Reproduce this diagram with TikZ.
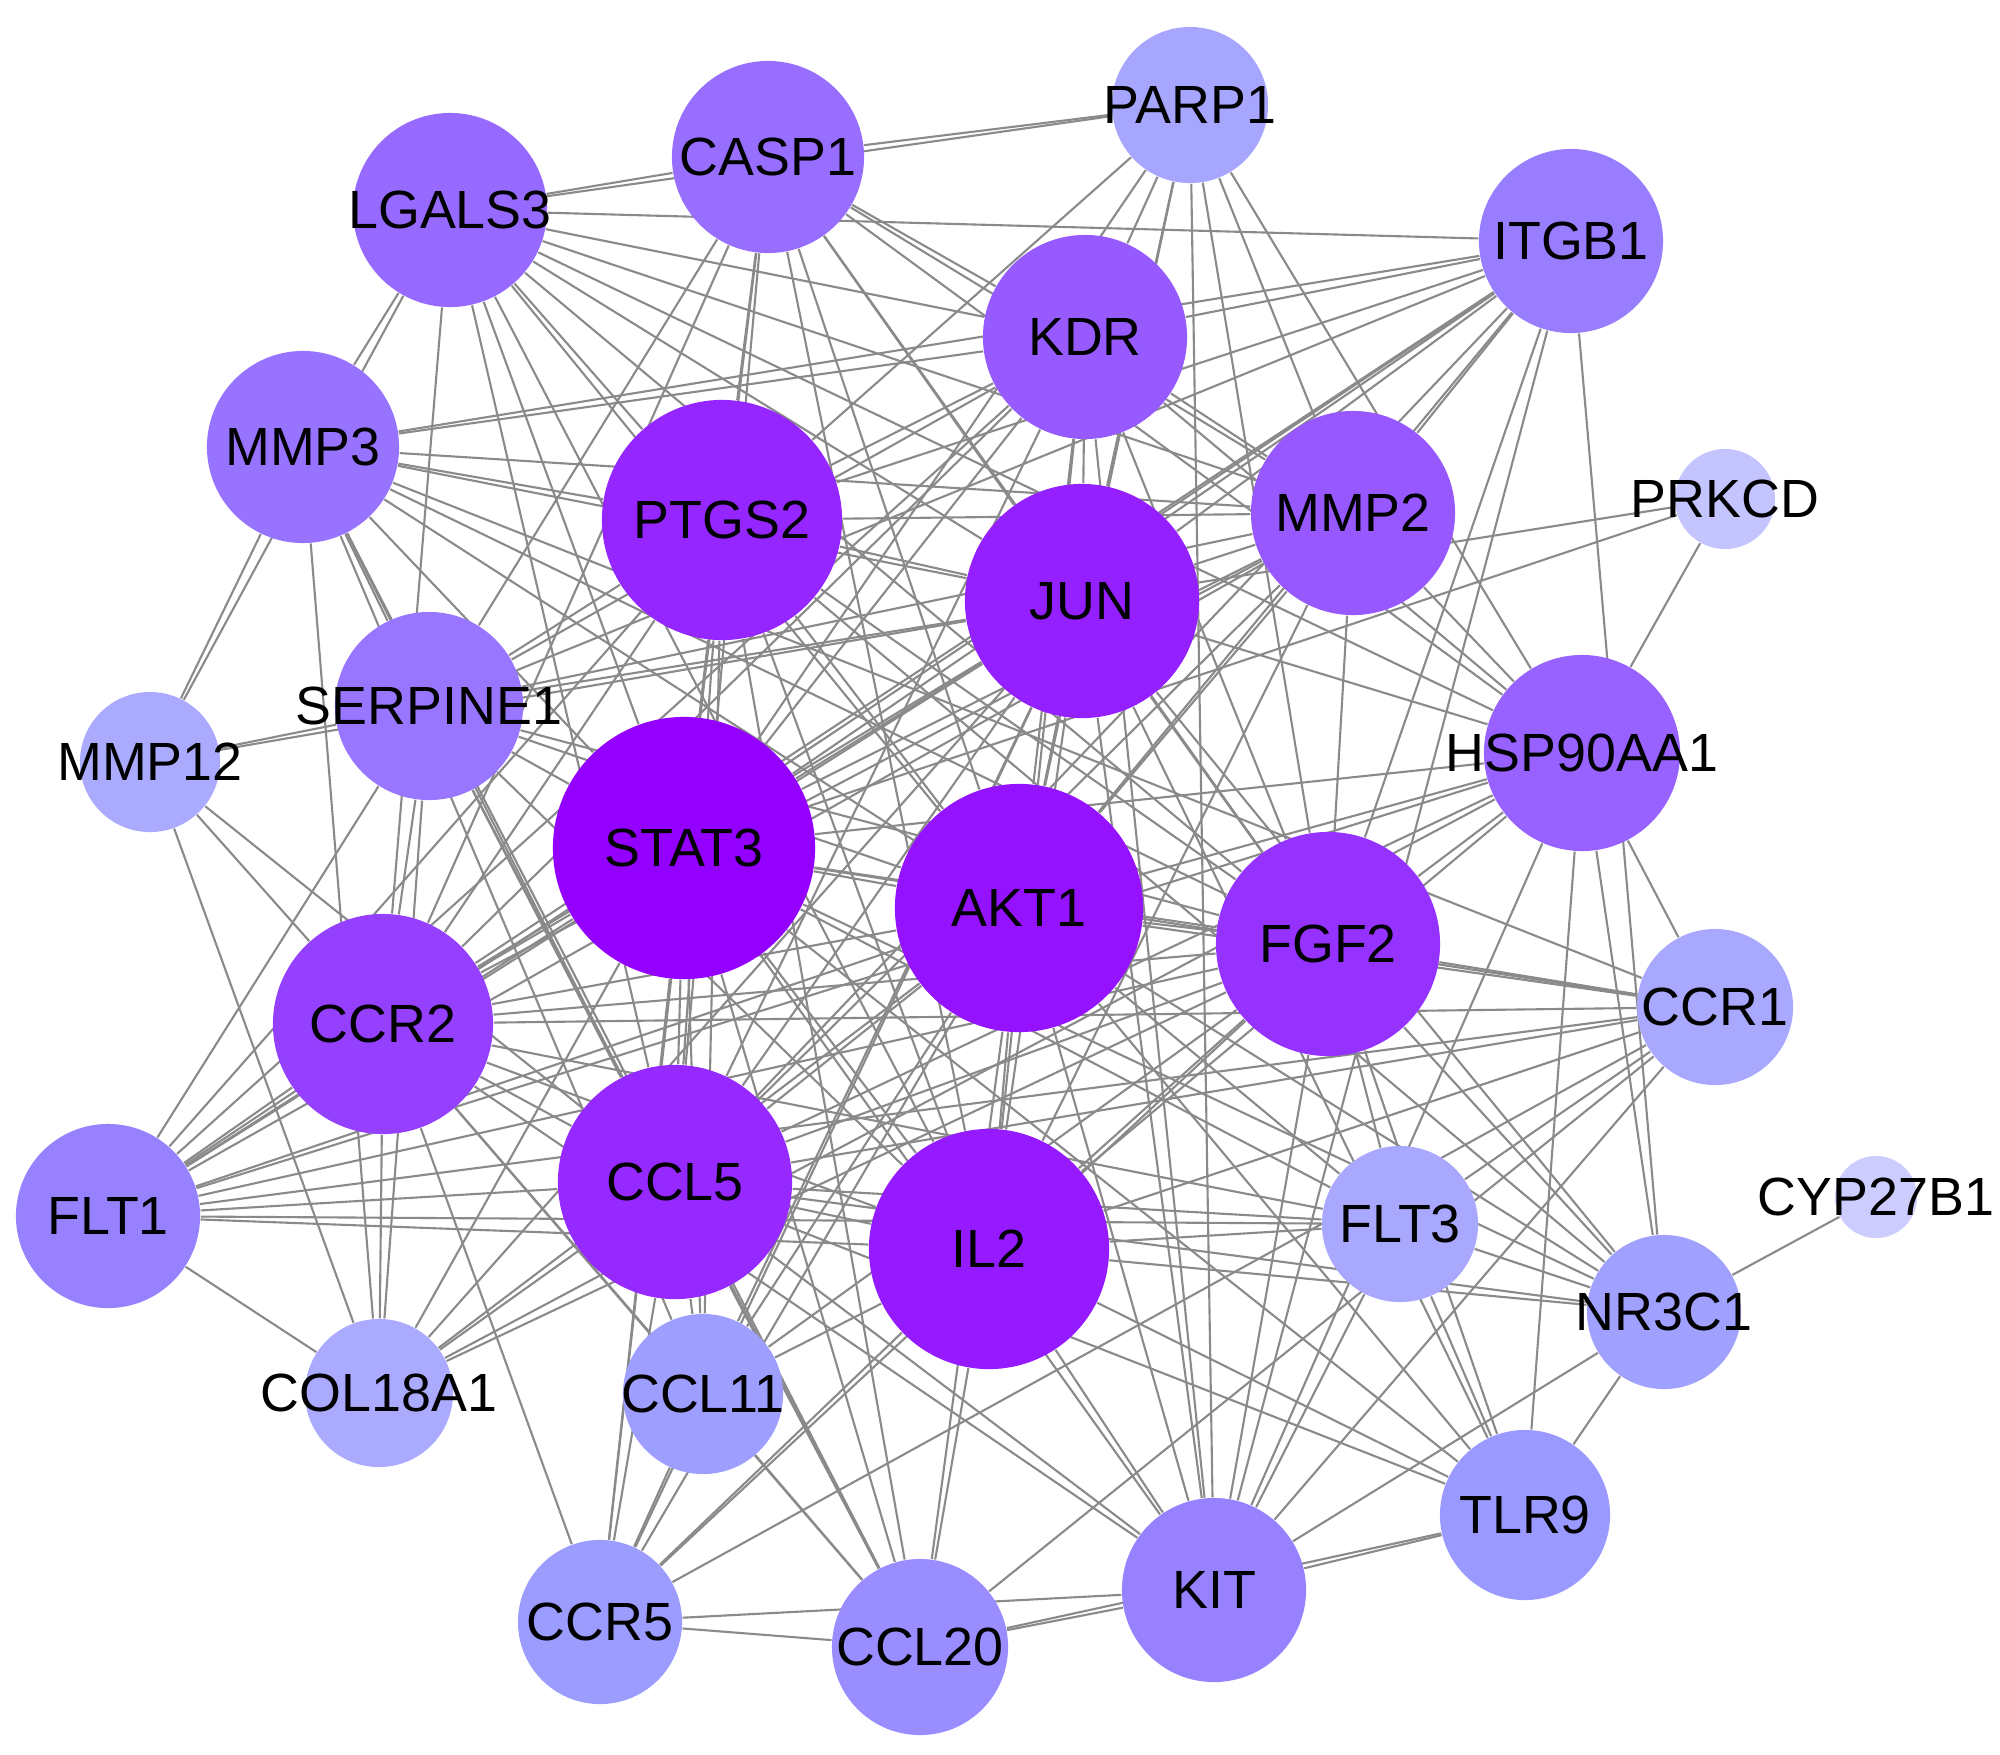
\documentclass[tikz,border=0pt]{standalone}
\usepackage{fontspec}
\setmainfont{Liberation Sans}
\usetikzlibrary{backgrounds}

\definecolor{hi}{RGB}{148,0,255}
\definecolor{mid}{RGB}{153,153,255}
\definecolor{lo}{RGB}{204,204,255}
\definecolor{edgegray}{RGB}{138,138,138}

\tikzset{
    gene/.style={circle, inner sep=0pt, minimum size={#1*0.02cm}},
    link/.style={edgegray, line width=0.6pt},
}

\begin{document}
\begin{tikzpicture}[x=0.01cm, y=-0.01cm, font=\fontsize{15.3}{18}\selectfont]
    \useasboundingbox (0,0) rectangle (2000,1754);

    % genes, radius grows with degree
    \node[gene=131, fill=hi, label=center:STAT3] (stat3) at (684,848) {};
    \node[gene=124, fill=hi!88!mid, label=center:AKT1] (akt1) at (1019,908) {};
    \node[gene=120, fill=hi!83!mid, label=center:IL2] (il2) at (989,1249) {};
    \node[gene=117, fill=hi!79!mid, label=center:JUN] (jun) at (1082,601) {};
    \node[gene=120, fill=hi!75!mid, label=center:PTGS2] (ptgs2) at (722,520) {};
    \node[gene=117, fill=hi!73!mid, label=center:CCL5] (ccl5) at (675,1182) {};
    \node[gene=112, fill=hi!67!mid, label=center:FGF2] (fgf2) at (1328,944) {};
    \node[gene=110, fill=hi!58!mid, label=center:CCR2] (ccr2) at (383,1024) {};
    \node[gene=102, fill=hi!41!mid, label=center:KDR] (kdr) at (1085,337) {};
    \node[gene=102, fill=hi!42!mid, label=center:MMP2] (mmp2) at (1353,513) {};
    \node[gene=98, fill=hi!36!mid, label=center:HSP90AA1] (hsp) at (1582,753) {};
    \node[gene=97, fill=hi!31!mid, label=center:LGALS3] (lgals3) at (450,210) {};
    \node[gene=96, fill=hi!28!mid, label=center:CASP1] (casp1) at (768,157) {};
    \node[gene=96, fill=hi!25!mid, label=center:MMP3] (mmp3) at (303,447) {};
    \node[gene=94, fill=hi!23!mid, label=center:SERPINE1] (serpine1) at (429,706) {};
    \node[gene=92, fill=hi!18!mid, label=center:ITGB1] (itgb1) at (1571,241) {};
    \node[gene=92, fill=hi!16!mid, label=center:FLT1] (flt1) at (108,1216) {};
    \node[gene=92, fill=hi!16!mid, label=center:KIT] (kit) at (1214,1590) {};
    \node[gene=88, fill=hi!8!mid, label=center:CCL20] (ccl20) at (920,1647) {};
    \node[gene=85, fill=mid, label=center:TLR9] (tlr9) at (1525,1515) {};
    \node[gene=80, fill=lo!10!mid, label=center:CCL11] (ccl11) at (703,1394) {};
    \node[gene=82, fill=lo!6!mid, label=center:CCR5] (ccr5) at (600,1622) {};
    \node[gene=77, fill=lo!14!mid, label=center:NR3C1] (nr3c1) at (1664,1312) {};
    \node[gene=78, fill=lo!25!mid, label=center:PARP1] (parp1) at (1190,105) {};
    \node[gene=78, fill=lo!30!mid, label=center:FLT3] (flt3) at (1400,1224) {};
    \node[gene=78, fill=lo!30!mid, label=center:CCR1] (ccr1) at (1715,1007) {};
    \node[gene=74, fill=lo!33!mid, label=center:COL18A1] (col18a1) at (379,1393) {};
    \node[gene=70, fill=lo!33!mid, label=center:MMP12] (mmp12) at (150,762) {};
    \node[gene=50, fill=lo!85!mid, label=center:PRKCD] (prkcd) at (1725,499) {};
    \node[gene=41, fill=lo, label=center:CYP27B1] (cyp27b1) at (1876,1197) {};

    % interactions
    \begin{scope}[on background layer]
        \foreach \t in {nr3c1} \draw[link] (cyp27b1) -- (\t);
        \foreach \t in {jun, stat3, hsp} \draw[link] (prkcd) -- (\t);
        \foreach \t in {mmp3, lgals3, serpine1, jun, ccr2, ccl5, col18a1} \draw[link] (mmp12) -- (\t);
        \foreach \t in {flt1, ccr2, serpine1, jun, akt1, ccl5, fgf2, hsp, stat3, mmp3} \draw[link] (col18a1) -- (\t);
        \foreach \t in {serpine1, ptgs2, ccr2, stat3, jun, mmp2, akt1, hsp, fgf2, ccr1, ccl5, il2, flt3, kdr} \draw[link] (flt1) -- (\t);
        \foreach \t in {ccr2, stat3, ccl5, ptgs2, ccl11, jun, akt1, il2, fgf2, ccr1, ccl20, kit} \draw[link] (ccr5) -- (\t);
        \foreach \t in {ccl11, ccr2, ccl5, stat3, ptgs2, il2, akt1, ccr1, kit, tlr9, serpine1, mmp3} \draw[link] (ccl20) -- (\t);
        \foreach \t in {il2, akt1, stat3, ccl5, jun, kdr, fgf2, flt3, hsp, tlr9, nr3c1, ccr1, ccr2, parp1, itgb1} \draw[link] (kit) -- (\t);
        \foreach \t in {nr3c1, il2, akt1, stat3, jun, ccl5, flt3, fgf2, hsp} \draw[link] (tlr9) -- (\t);
        \foreach \t in {flt3, hsp, itgb1, fgf2, akt1, jun, stat3, il2, ccl5, ptgs2} \draw[link] (nr3c1) -- (\t);
        \foreach \t in {ccr1, fgf2, akt1, il2, stat3, ccl5, ccr2} \draw[link] (flt3) -- (\t);
        \foreach \t in {fgf2, akt1, stat3, ccr2, il2, ccl5, mmp3, hsp} \draw[link] (ccr1) -- (\t);
        \foreach \t in {fgf2, akt1, jun, stat3, mmp2, kdr, parp1, lgals3, casp1, il2, ccl5} \draw[link] (hsp) -- (\t);
        \foreach \t in {lgals3, kdr, mmp3, serpine1, ptgs2, stat3, jun, ccr2, flt1, mmp2, akt1, ccl5, fgf2} \draw[link] (itgb1) -- (\t);
        \foreach \t in {casp1, lgals3, ptgs2, kdr, jun, akt1, fgf2, mmp2, stat3} \draw[link] (parp1) -- (\t);
        \foreach \t in {lgals3, serpine1, ccr2, ptgs2, stat3, ccl5, jun, akt1, il2, mmp2, fgf2, kdr} \draw[link] (casp1) -- (\t);
        \foreach \t in {lgals3, kdr, ptgs2, jun, mmp2, fgf2, serpine1, ccl5, ccl11, stat3, akt1} \draw[link] (mmp3) -- (\t);
        \foreach \t in {ptgs2, jun, kdr, stat3, akt1, ccl5, il2, ccr2, fgf2, mmp2} \draw[link] (serpine1) -- (\t);
        \foreach \t in {kdr, mmp2, jun, ptgs2, akt1, fgf2, stat3, il2, ccl5, ccr2} \draw[link] (lgals3) -- (\t);
        \foreach \t in {stat3, ccl5, ccr2, akt1, il2, jun, ptgs2, fgf2} \draw[link] (ccl11) -- (\t);
        \foreach \t in {stat3, akt1, il2, jun, ptgs2, ccl5, fgf2, mmp2, ccr2} \draw[link] (kdr) -- (\t);
        \foreach \t in {stat3, akt1, il2, jun, ptgs2, fgf2, ccl5, ccr2} \draw[link] (mmp2) -- (\t);
        \foreach \t in {stat3, akt1, il2, jun, ptgs2, ccl5, fgf2} \draw[link] (ccr2) -- (\t);
        \foreach \t in {akt1, il2, jun, ptgs2, ccl5, fgf2} \draw[link] (stat3) -- (\t);
        \foreach \t in {il2, jun, ptgs2, ccl5, fgf2} \draw[link] (akt1) -- (\t);
        \foreach \t in {jun, ptgs2, ccl5, fgf2} \draw[link] (il2) -- (\t);
        \foreach \t in {ptgs2, ccl5, fgf2} \draw[link] (jun) -- (\t);
        \foreach \t in {ccl5, fgf2} \draw[link] (ptgs2) -- (\t);
        \draw[link] (ccl5) -- (fgf2);
    \end{scope}
\end{tikzpicture}
\end{document}
